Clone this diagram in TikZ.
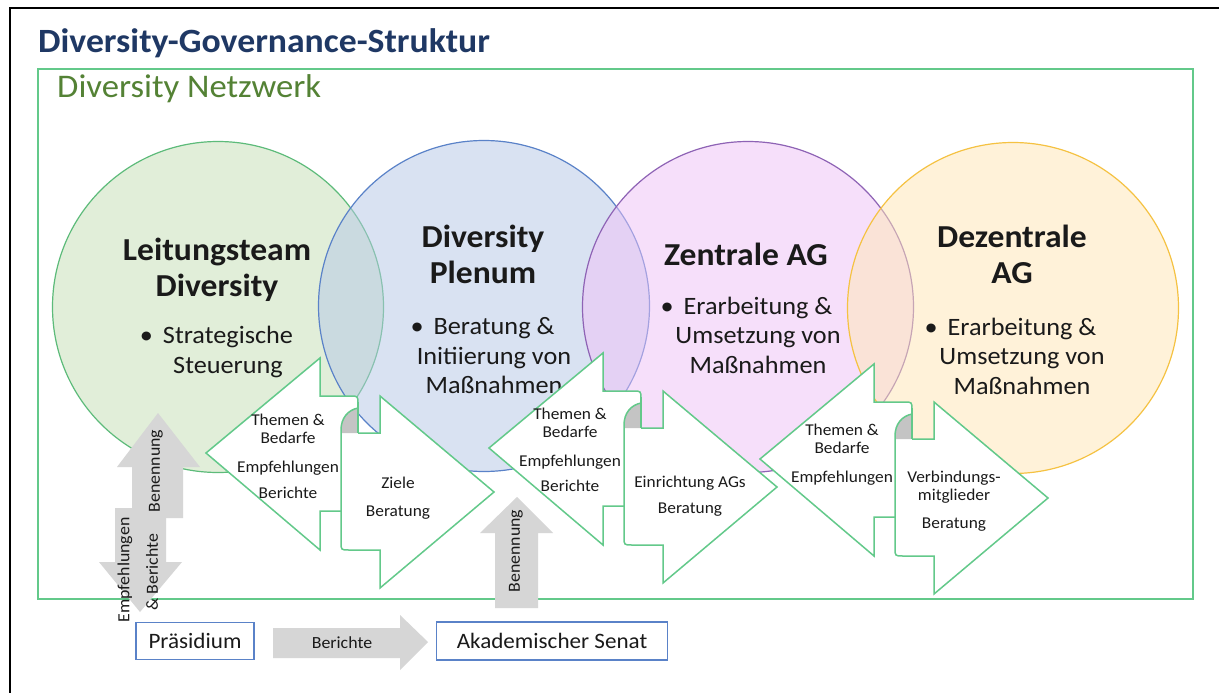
\documentclass[tikz,border=0pt]{standalone}
\usepackage{fontspec}
\setmainfont{Carlito}[FakeStretch=1.05]
\definecolor{navy}{HTML}{1F3864}
\definecolor{netgreen}{HTML}{548235}
\definecolor{frameg}{HTML}{63C98A}
\definecolor{txt}{HTML}{1A1A1A}
\definecolor{cgreen}{HTML}{C5DFB5}
\definecolor{cblue}{HTML}{B5C7E7}
\definecolor{cpink}{HTML}{EFC1F7}
\definecolor{cyellow}{HTML}{FFE7B5}
\definecolor{sgreen}{HTML}{5DBB7A}
\definecolor{sblue}{HTML}{5A82C8}
\definecolor{spink}{HTML}{8E63B5}
\definecolor{syellow}{HTML}{F5C242}
\definecolor{garrowc}{HTML}{D6D6D6}
\definecolor{knobc}{HTML}{C4C4C4}
\definecolor{boxblue}{HTML}{5A82C8}
\newcommand\pzpair[2]{%
 \begin{scope}[shift={(#1,#2)}]
  \filldraw[pz] (0,0) -- (0,38) -- (30,38) .. controls (38,38) .. (38,46) -- (38,153) -- (0,153) -- (0,192) -- (-114,95) -- cycle;
  \fill[white] (21,72) -- (21,184) .. controls (21,192) .. (29,192) -- (60,192) -- (60,230) -- (174,134) -- (60,38) -- (60,75) -- (38,75) -- cycle;
  \fill[knobc] (21,75) -- (21,72) .. controls (21,60) and (28,52) .. (38,50) -- (38,75) -- cycle;
  \draw[pzline] (21,72) -- (21,184) .. controls (21,192) .. (29,192) -- (60,192) -- (60,230) -- (174,134) -- (60,38) -- (60,75) -- (38,75);
  \draw[pzline] (21,72) .. controls (21,60) and (28,52) .. (38,50);
  \draw[pzline] (38,44) -- (38,75);
 \end{scope}}
\newcommand\bulletmark{\llap{\textbullet\hspace{10pt}}}
\begin{document}
\begin{tikzpicture}[x=1pt,y=-1pt,
  circ/.style={circle, inner sep=0pt, minimum size=331pt, line width=1.2pt, fill opacity=0.5, draw opacity=1},
  ttl/.style={font=\bfseries\fontsize{32}{36}\selectfont, align=center, text=txt, inner sep=0pt},
  bul/.style={font=\fontsize{25}{29.5}\selectfont, align=center, text=txt, inner sep=0pt},
  pz/.style={draw=frameg, line width=1.5pt, fill=white, line join=miter},
  pzline/.style={draw=frameg, line width=1.5pt, line join=miter},
  pztxt/.style={font=\fontsize{16.5}{18}\selectfont, align=center, text=txt, inner sep=0pt},
  garrow/.style={fill=garrowc},
  gtxt/.style={font=\fontsize{17}{19}\selectfont, text=txt, inner sep=0pt},
  bx/.style={draw=boxblue, line width=1.1pt, fill=white, font=\fontsize{22}{26}\selectfont, text=txt, inner sep=0pt}]
\useasboundingbox (0,0) rectangle (1219,693);
\fill[white] (0,0) rectangle (1219,693);
% outer black border (cropped screenshot)
\draw[black, line width=2pt] (9.5,693) -- (9.5,8.3) -- (1219,8.3);
% title
\node[anchor=base west, inner sep=0pt, text=navy, font=\bfseries\fontsize{34}{40}\selectfont] (title) at (38,53) {Diversity-Governance-Struktur};
% network frame
\draw[frameg, line width=2.5pt] (38,69) rectangle (1193,599);
\node[anchor=base west, inner sep=0pt, text=netgreen, font=\fontsize{33}{38}\selectfont] (netz) at (57,97) {Diversity Netzwerk};
% circles
\node[circ, fill=cgreen, draw=sgreen] (c1) at (218,307) {};
\node[circ, fill=cblue, draw=sblue] (c2) at (484,306) {};
\node[circ, fill=cpink, draw=spink] (c3) at (748,307) {};
\node[circ, fill=cyellow, draw=syellow] (c4) at (1013,308) {};
% circle texts
\node[ttl] (t1) at (217,270) {Leitungsteam\\Diversity};
\node[bul] (b1) at (228,352) {\bulletmark Strategische\\Steuerung};
\node[ttl] (t2) at (483,254) {Diversity\\Plenum};
\node[bul] (b2) at (494,356) {\bulletmark Beratung \&\\Initiierung von\\Maßnahmen};
\node[ttl] (t3) at (746,254) {Zentrale AG};
\node[bul] (b3) at (758,335) {\bulletmark Erarbeitung \&\\Umsetzung von\\Maßnahmen};
\node[ttl] (t4) at (1012,254) {Dezentrale\\AG};
\node[bul] (b4) at (1022,356) {\bulletmark Erarbeitung \&\\Umsetzung von\\Maßnahmen};
% puzzle arrow pairs
\pzpair{320}{358}
\pzpair{603}{353}
\pzpair{874}{364}
\node[pztxt] (l1) at (288,456) {Themen \&\\Bedarfe\\[11pt]Empfehlungen\\[8pt]Berichte};
\node[pztxt] (r1) at (398,498) {Ziele\\[10pt]Beratung};
\node[pztxt] (l2) at (570,450) {Themen \&\\Bedarfe\\[11pt]Empfehlungen\\[7pt]Berichte};
\node[pztxt] (r2) at (690,496) {Einrichtung AGs\\[8pt]Beratung};
\node[pztxt] (l3) at (842,455) {Themen \&\\Bedarfe\\[11pt]Empfehlungen};
\node[pztxt] (r3) at (954,501) {Verbindungs-\\mitglieder\\[10pt]Beratung};
% gray block arrows
\fill[garrow] (115,508) -- (166,508) -- (166,562) -- (182,562) -- (140,612) -- (99,562) -- (115,562) -- cycle;
\fill[garrow] (158,413) -- (200,467) -- (183,467) -- (183,518) -- (132,518) -- (132,467) -- (117,467) -- cycle;
\fill[garrow] (517,497) -- (553,533) -- (538,533) -- (538,608) -- (495,608) -- (495,533) -- (480,533) -- cycle;
\fill[garrow] (273,628) -- (400,628) -- (400,615) -- (428,642) -- (400,670) -- (400,658) -- (273,658) -- cycle;
\node[gtxt, rotate=90] (ben1) at (156,471) {Benennung};
\node[gtxt, rotate=90] (emp) at (125,570) {Empfehlungen};
\node[gtxt, rotate=90] (ber) at (152,572) {\& Berichte};
\node[gtxt, rotate=90] (ben2) at (516,551) {Benennung};
\node[gtxt] (berpr) at (342,643) {Berichte};
% bottom boxes
\node[bx, minimum width=118pt, minimum height=37pt] (praes) at (195,641) {Präsidium};
\node[bx, minimum width=231pt, minimum height=38pt] (senat) at (552,641) {Akademischer Senat};
\end{tikzpicture}
\end{document}
